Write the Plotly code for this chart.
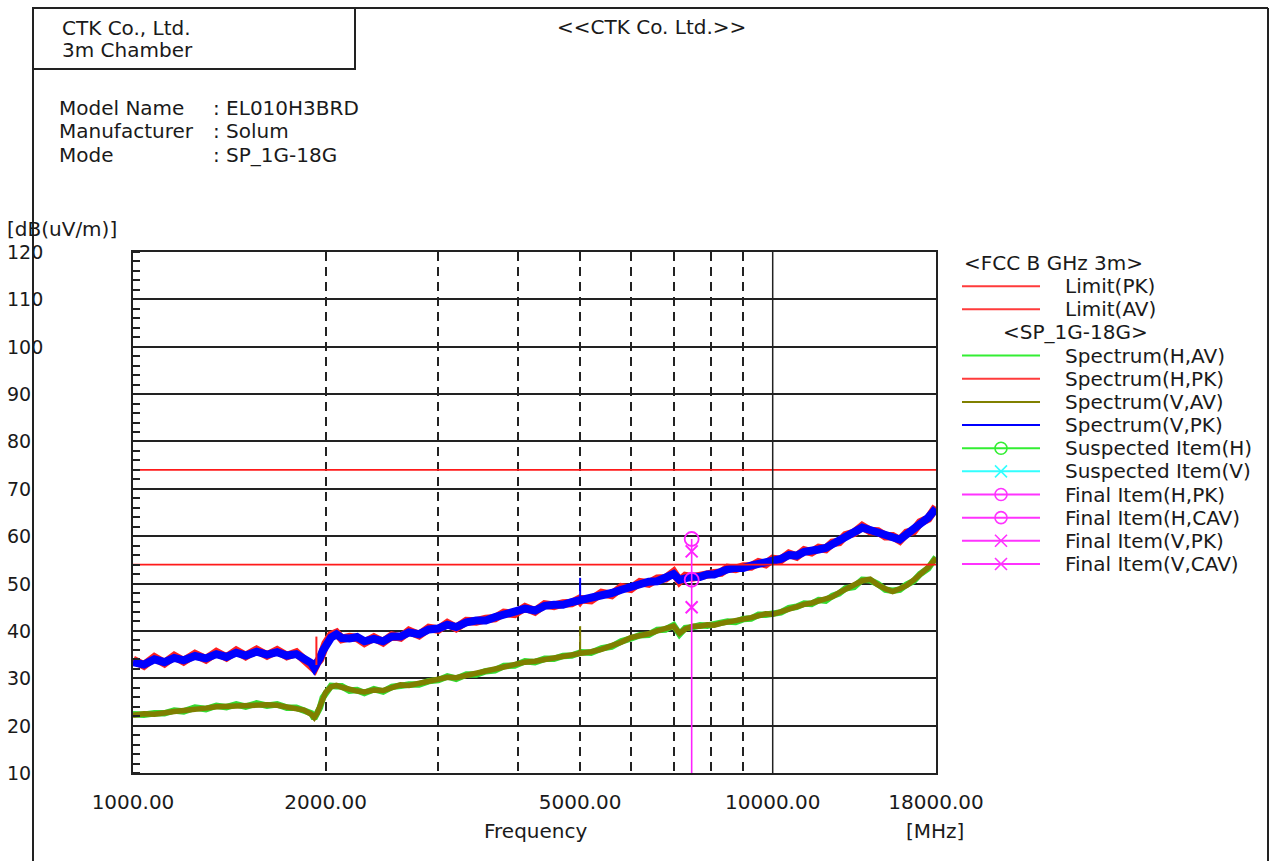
import math
import plotly.graph_objects as go

W, H = 1274, 861

# ---------------- data ----------------
FREQ_MHZ = [1000, 1040, 1080, 1120, 1160, 1200, 1250, 1300, 1350, 1400, 1450, 1500, 1560, 1620, 1680,
            1740, 1800, 1850, 1900, 1920, 1940, 1960, 1980, 2000, 2040, 2080, 2120, 2180, 2240, 2300,
            2380, 2460, 2540, 2620, 2700, 2800, 2900, 3000, 3100, 3200, 3320, 3440, 3560, 3680, 3800,
            3950, 4100, 4250, 4400, 4550, 4700, 4850, 4980, 5000, 5020, 5200, 5400, 5600, 5800, 6000, 6200, 6400,
            6600, 6800, 7000, 7150, 7300, 7500, 7700, 7900, 8100, 8300, 8500, 8750, 9000, 9250, 9500,
            9750, 10000, 10300, 10600, 10900, 11200, 11500, 11800, 12100, 12400, 12700, 13000, 13400,
            13800, 14200, 14600, 15000, 15400, 15800, 16200, 16600, 17000, 17500, 18000]

SPEC_V_PK = [33.4, 32.9, 34.0, 33.4, 34.3, 33.8, 34.7, 34.2, 35.1, 34.5, 35.4, 34.8, 35.6, 35.0, 35.5,
             34.8, 35.1, 34.1, 33.2, 32.2, 33.0, 34.3, 35.8, 37.0, 38.6, 39.3, 38.5, 38.4, 38.7, 37.8,
             38.3, 37.8, 38.8, 38.8, 39.7, 39.3, 40.3, 40.5, 41.3, 40.8, 41.8, 42.2, 42.2, 42.9, 43.5,
             43.8, 44.7, 44.3, 45.3, 45.5, 45.5, 46.1, 46.4, 46.7, 46.5, 46.9, 47.5, 48.0, 48.7, 49.3, 49.8, 50.4,
             50.5, 51.5, 52.0, 50.8, 51.3, 51.5, 51.4, 51.9, 51.9, 52.5, 53.0, 53.3, 53.3, 53.8, 54.2,
             54.3, 54.9, 55.2, 56.0, 55.9, 56.7, 56.8, 57.2, 57.5, 58.3, 59.0, 59.9, 60.9,
             61.8, 61.3, 60.7, 60.2, 59.7, 59.3, 60.4, 61.3, 62.6, 63.9, 65.8]

SPEC_H_PK = [33.9, 32.7, 34.4, 33.2, 34.7, 33.6, 35.1, 34.0, 35.5, 34.4, 35.8, 34.7, 36.0, 34.8, 35.9,
             34.7, 35.4, 33.9, 33.0, 32.0, 33.3, 34.0, 35.6, 37.3, 39.1, 39.6, 38.3, 38.7, 38.5, 37.5,
             38.6, 37.6, 39.0, 38.6, 40.0, 39.1, 40.6, 40.3, 41.6, 40.6, 42.1, 42.0, 42.5, 42.7, 43.8,
             43.6, 45.0, 44.1, 45.6, 45.3, 45.8, 45.9, 46.7, 46.4, 46.7, 46.5, 48.0, 47.6, 49.2, 48.9, 50.3, 50.0,
             51.0, 51.1, 52.4, 50.5, 51.6, 51.3, 51.7, 51.7, 52.2, 52.3, 53.3, 53.1, 53.6, 53.6, 54.5,
             54.1, 55.2, 55.0, 56.3, 55.7, 57.0, 56.6, 57.5, 57.3, 58.6, 58.8, 60.2, 60.7,
             62.1, 61.1, 61.0, 60.0, 60.0, 59.1, 60.7, 61.1, 62.9, 63.7, 66.2]

SPEC_V_AV = [22.2, 22.5, 22.4, 22.8, 23.0, 23.2, 23.6, 23.7, 24.0, 24.1, 24.3, 24.2, 24.5, 24.4, 24.3,
             24.0, 23.6, 23.3, 22.4, 21.7, 22.6, 24.0, 25.7, 27.0, 28.2, 28.5, 28.1, 27.6, 27.3, 27.1,
             27.5, 27.4, 28.0, 28.6, 28.5, 28.9, 29.2, 29.8, 30.2, 30.1, 30.6, 31.0, 31.3, 31.9, 32.4,
             32.9, 33.4, 33.6, 33.9, 34.3, 34.5, 35.0, 35.2, 35.4, 35.3, 35.6, 36.1, 36.9, 37.6, 38.6, 38.9, 39.4,
             40.0, 40.5, 41.0, 39.5, 40.4, 41.0, 41.0, 41.3, 41.2, 41.6, 41.8, 42.1, 42.3, 42.8, 43.2,
             43.6, 43.5, 44.1, 44.6, 45.3, 45.6, 45.9, 46.3, 46.6, 47.2, 48.1, 48.8, 49.5,
             50.6, 50.9, 49.7, 48.9, 48.3, 48.9, 49.6, 50.7, 51.8, 53.4, 55.4]

SPEC_H_AV = [22.4, 22.3, 22.6, 22.6, 23.2, 23.0, 23.8, 23.5, 24.2, 23.9, 24.5, 24.0, 24.7, 24.2, 24.5,
             23.8, 23.8, 23.1, 22.6, 21.5, 22.8, 23.8, 25.9, 26.8, 28.4, 28.3, 28.3, 27.4, 27.5, 26.9,
             27.7, 27.2, 28.2, 28.4, 28.7, 28.7, 29.4, 29.6, 30.4, 29.9, 30.8, 30.8, 31.5, 31.7, 32.6,
             32.7, 33.6, 33.4, 34.1, 34.1, 34.7, 34.8, 35.4, 35.6, 35.5, 35.4, 36.3, 36.7, 37.8, 38.4, 39.1, 39.2,
             40.2, 40.3, 41.2, 39.3, 40.6, 40.8, 41.2, 41.1, 41.4, 41.4, 42.0, 41.9, 42.5, 42.6, 43.4,
             43.4, 43.7, 43.9, 44.8, 45.1, 45.8, 45.7, 46.5, 46.4, 47.4, 47.9, 49.0, 49.3,
             50.8, 50.7, 49.9, 48.7, 48.5, 48.7, 49.8, 50.5, 52.0, 53.2, 55.6]

# narrow single-bin spikes (freq, base, top)
SPIKE_H_PK_FREQ = [1935]
SPIKE_H_PK_BASE = [32.8]
SPIKE_H_PK_TOP = [38.8]
SPIKE_V_PK_FREQ = [5000]
SPIKE_V_PK_BASE = [46.7]
SPIKE_V_PK_TOP = [51.2]
SPIKE_V_AV_FREQ = [5000]
SPIKE_V_AV_BASE = [35.4]
SPIKE_V_AV_TOP = [41.0]

LIMIT_PK_DB = 74
LIMIT_AV_DB = 54

FINAL_FREQ = 7470
FINAL_H_PK = 59.4
FINAL_H_CAV = 50.8
FINAL_V_PK = 56.8
FINAL_V_CAV = 45.0

X_RANGE = [1000, 18000]
Y_RANGE = [10, 120]
X_TICK_VALS = [1000, 2000, 5000, 10000, 18000]
X_TICK_TEXT = ["1000.00", "2000.00", "5000.00", "10000.00", "18000.00"]
X_DASH_GRID = [2000, 3000, 4000, 5000, 6000, 7000, 8000, 9000]
X_SOLID_GRID = [10000]
Y_TICK_VALS = [10, 20, 30, 40, 50, 60, 70, 80, 90, 100, 110, 120]

LEGEND_ROWS = [
    ("head", "<FCC B GHz 3m>", None, None),
    ("item", "Limit(PK)", "#ff3b3b", None),
    ("item", "Limit(AV)", "#ff3b3b", None),
    ("head2", "<SP_1G-18G>", None, None),
    ("item", "Spectrum(H,AV)", "#33ee33", None),
    ("item", "Spectrum(H,PK)", "#ff3b3b", None),
    ("item", "Spectrum(V,AV)", "#808000", None),
    ("item", "Spectrum(V,PK)", "#0000ff", None),
    ("item", "Suspected Item(H)", "#33ee33", "circle-open"),
    ("item", "Suspected Item(V)", "#33ffff", "x-thin-open"),
    ("item", "Final Item(H,PK)", "#ff33ff", "circle-open"),
    ("item", "Final Item(H,CAV)", "#ff33ff", "circle-open"),
    ("item", "Final Item(V,PK)", "#ff33ff", "x-thin-open"),
    ("item", "Final Item(V,CAV)", "#ff33ff", "x-thin-open"),
]

FONT = "DejaVu Sans"
TXT = "#1a1a1a"
MAGENTA = "#ff22ff"
C_H_AV, C_V_AV, C_H_PK, C_V_PK = "#33dd33", "#7f7f00", "#ff2020", "#0000ff"


def PX(x):
    return x / W


def PY(y):
    return 1 - y / H


fig = go.Figure()

# spectra
fig.add_trace(go.Scatter(x=FREQ_MHZ, y=SPEC_H_AV, mode="lines", line=dict(color=C_H_AV, width=6.5)))
fig.add_trace(go.Scatter(x=FREQ_MHZ, y=SPEC_V_AV, mode="lines", line=dict(color=C_V_AV, width=5.5)))
fig.add_trace(go.Scatter(x=FREQ_MHZ, y=SPEC_H_PK, mode="lines", line=dict(color=C_H_PK, width=8.5)))
fig.add_trace(go.Scatter(x=FREQ_MHZ, y=SPEC_V_PK, mode="lines", line=dict(color=C_V_PK, width=8)))

# spikes
for fr, base, top, col in ((SPIKE_H_PK_FREQ, SPIKE_H_PK_BASE, SPIKE_H_PK_TOP, C_H_PK),
                           (SPIKE_V_PK_FREQ, SPIKE_V_PK_BASE, SPIKE_V_PK_TOP, C_V_PK),
                           (SPIKE_V_AV_FREQ, SPIKE_V_AV_BASE, SPIKE_V_AV_TOP, C_V_AV)):
    for f, b, t in zip(fr, base, top):
        fig.add_trace(go.Scatter(x=[f, f], y=[b, t], mode="lines", line=dict(color=col, width=2)))

# limits
for lim in (LIMIT_PK_DB, LIMIT_AV_DB):
    fig.add_trace(go.Scatter(x=X_RANGE, y=[lim, lim], mode="lines",
                             line=dict(color="#ff1a1a", width=1.6)))

# solid 10 GHz grid line
for g in X_SOLID_GRID:
    fig.add_trace(go.Scatter(x=[g, g], y=Y_RANGE, mode="lines", line=dict(color="#222222", width=1.5)))

# final items
finals = [FINAL_H_PK, FINAL_H_CAV, FINAL_V_PK, FINAL_V_CAV]
fig.add_trace(go.Scatter(x=[FINAL_FREQ, FINAL_FREQ], y=[max(finals), Y_RANGE[0]], mode="lines",
                         line=dict(color=MAGENTA, width=1.6)))
fig.add_trace(go.Scatter(x=[FINAL_FREQ, FINAL_FREQ], y=[FINAL_H_PK, FINAL_H_CAV], mode="markers",
                         marker=dict(symbol="circle-open", size=14, color=MAGENTA, line=dict(width=1.8))))
fig.add_trace(go.Scatter(x=[FINAL_FREQ, FINAL_FREQ], y=[FINAL_V_PK, FINAL_V_CAV], mode="markers",
                         marker=dict(symbol="x-thin-open", size=12, color=MAGENTA, line=dict(width=2, color=MAGENTA))))

# custom legend drawn in a hidden pixel-unit axis pair
ROW0, ROWH = 263, 23.15
annotations = []
for i, (kind, label, color, sym) in enumerate(LEGEND_ROWS):
    yy = ROW0 + i * ROWH
    if kind == "head":
        annotations.append(dict(x=962, y=yy, xref="x2", yref="y2", text=label, showarrow=False,
                                xanchor="left", yanchor="middle", font=dict(family=FONT, size=20, color=TXT)))
        continue
    if kind == "head2":
        annotations.append(dict(x=1001, y=yy, xref="x2", yref="y2", text=label, showarrow=False,
                                xanchor="left", yanchor="middle", font=dict(family=FONT, size=20, color=TXT)))
        continue
    fig.add_trace(go.Scatter(x=[962, 1040], y=[yy, yy], xaxis="x2", yaxis="y2", mode="lines",
                             line=dict(color=color, width=2)))
    if sym:
        fig.add_trace(go.Scatter(x=[1001], y=[yy], xaxis="x2", yaxis="y2", mode="markers",
                                 marker=dict(symbol=sym, size=12, color=color, line=dict(width=1.6, color=color))))
    annotations.append(dict(x=1063, y=yy, xref="x2", yref="y2", text=label, showarrow=False,
                            xanchor="left", yanchor="middle", font=dict(family=FONT, size=20, color=TXT)))

# y tick labels (left-aligned, far left)
for v in Y_TICK_VALS:
    annotations.append(dict(x=PX(5), y=v, xref="paper", yref="y", text=str(v), showarrow=False,
                            xanchor="left", yanchor="middle", font=dict(family=FONT, size=19, color=TXT)))

# header texts
def txt(x, y, s, anchor="left", size=20):
    annotations.append(dict(x=PX(x), y=PY(y), xref="paper", yref="paper", text=s, showarrow=False,
                            xanchor=anchor, yanchor="middle", font=dict(family=FONT, size=size, color=TXT)))

txt(60, 28, "CTK Co., Ltd.")
txt(60, 50, "3m Chamber")
txt(651, 27, "&lt;&lt;CTK Co. Ltd.&gt;&gt;", anchor="center")
txt(57, 108, "Model Name")
txt(57, 131, "Manufacturer")
txt(57, 155, "Mode")
txt(211, 108, ": EL010H3BRD")
txt(211, 131, ": Solum")
txt(211, 155, ": SP_1G-18G")
txt(5, 229, "[dB(uV/m)]")
txt(535, 831, "Frequency", anchor="center")
txt(904, 831, "[MHz]")

shapes = [
    dict(type="line", xref="paper", yref="paper", x0=PX(33), x1=PX(1268), y0=PY(8), y1=PY(8),
         line=dict(color="#222", width=2)),
    dict(type="line", xref="paper", yref="paper", x0=PX(33), x1=PX(33), y0=PY(8), y1=PY(870),
         line=dict(color="#222", width=2)),
    dict(type="line", xref="paper", yref="paper", x0=PX(1268), x1=PX(1268), y0=PY(8), y1=PY(870),
         line=dict(color="#222", width=2)),
    dict(type="rect", xref="paper", yref="paper", x0=PX(33), x1=PX(355), y0=PY(69), y1=PY(8),
         line=dict(color="#222", width=2)),
]

fig.update_layout(
    template="none",
    width=W, height=H, autosize=False,
    margin=dict(l=0, r=0, t=0, b=0, pad=0),
    paper_bgcolor="white", plot_bgcolor="white",
    showlegend=False,
    annotations=annotations,
    shapes=shapes,
    xaxis=dict(
        type="log", range=[math.log10(X_RANGE[0]), math.log10(X_RANGE[1])],
        domain=[PX(133), PX(936)], automargin=False,
        tickmode="array", tickvals=X_TICK_VALS, ticktext=X_TICK_TEXT,
        ticks="", ticklabelstandoff=10,
        tickfont=dict(family=FONT, size=20, color=TXT),
        showgrid=False, zeroline=False,
        showline=True, linecolor="#222", linewidth=2, mirror=True,
        minor=dict(tickmode="array", tickvals=X_DASH_GRID, showgrid=True, gridcolor="#222",
                   griddash="9px,6px", gridwidth=1.5, ticks=""),
    ),
    yaxis=dict(
        range=Y_RANGE, domain=[PY(773), PY(252)], automargin=False,
        tickmode="array", tickvals=Y_TICK_VALS, showticklabels=False, ticks="",
        showgrid=True, gridcolor="#222", gridwidth=1.5, zeroline=False,
        showline=True, linecolor="#222", linewidth=2, mirror=True,
        minor=dict(dtick=2, tick0=0, ticks="inside", ticklen=7, tickcolor="#222", tickwidth=1.5,
                   showgrid=False),
    ),
    xaxis2=dict(domain=[PX(950), PX(1266)], range=[950, 1266], visible=False, anchor="y2", automargin=False),
    yaxis2=dict(domain=[PY(600), PY(250)], range=[600, 250], visible=False, anchor="x2", automargin=False),
)

fig.write_html("out.html", config={"displayModeBar": False},
               post_script="document.body.style.margin='0';document.body.style.overflow='hidden';")
